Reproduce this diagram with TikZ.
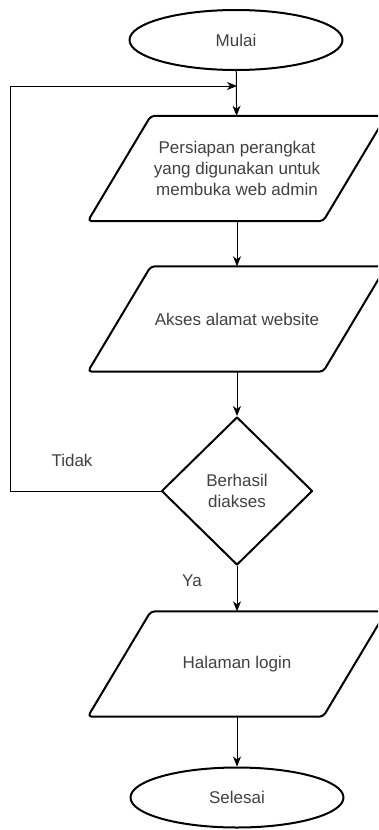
\documentclass[tikz,border=0pt]{standalone}
\usepackage{fontspec}
\setmainfont{Liberation Sans}
\usetikzlibrary{shapes.geometric,arrows.meta}

\begin{document}
\begin{tikzpicture}[x=1pt, y=1pt,
  font=\fontsize{17}{21}\selectfont, text=black!75,
  shapeline/.style={draw, line width=2pt, line join=round},
  terminal/.style={ellipse, shapeline, minimum width=213pt, minimum height=60pt, inner sep=0pt},
  data/.style={rectangle, minimum width=235pt, minimum height=105pt, inner sep=0pt, align=center},
  decision/.style={diamond, shapeline, minimum width=151pt, minimum height=148pt, inner sep=0pt, align=center},
  flow/.style={line width=1pt, -{Stealth[length=10pt, width=8pt, inset=3pt]}}]

\useasboundingbox (0,0) rectangle (378,-830);
\clip (0,0) rectangle (378,-830);

\node [terminal] (mulai) at (236,-40) {Mulai};
\coordinate (join) at (237,-86);
\node [data] (siap) at (237,-168.5) {Persiapan perangkat\\yang digunakan untuk\\membuka web admin};
\node [data] (akses) at (237,-319) {Akses alamat website};
\node [decision] (cek) at (237,-491) {Berhasil\\diakses};
\node [data] (login) at (237,-664) {Halaman login};
\node [terminal] (selesai) at (237,-797.5) {Selesai};

\node (tidak) at (72,-460) {Tidak};
\node (ya) at (192,-581) {Ya};

% parallelograms round the data nodes
\begin{scope}[shapeline, rounded corners=4pt]
\draw ([xshift=-31.5pt]siap.south west) -- ([xshift=31.5pt]siap.north west) -- ([xshift=31.5pt]siap.north east) -- ([xshift=-31.5pt]siap.south east) -- cycle;
\draw ([xshift=-31.5pt]akses.south west) -- ([xshift=31.5pt]akses.north west) -- ([xshift=31.5pt]akses.north east) -- ([xshift=-31.5pt]akses.south east) -- cycle;
\draw ([xshift=-31.5pt]login.south west) -- ([xshift=31.5pt]login.north west) -- ([xshift=31.5pt]login.north east) -- ([xshift=-31.5pt]login.south east) -- cycle;
\end{scope}

\begin{scope}[flow]
\draw (mulai) -- (siap); %mulai-siap
\draw (siap) -- (akses); %siap-akses
\draw (akses) -- (cek); %akses-cek
\draw (cek) -- (login); %cek-login (ya)
\draw (login) -- (selesai); %login-selesai
\draw (cek.west) -- ++(-150,0) |- (join); %cek-join (tidak)
\end{scope}

\end{tikzpicture}
\end{document}
